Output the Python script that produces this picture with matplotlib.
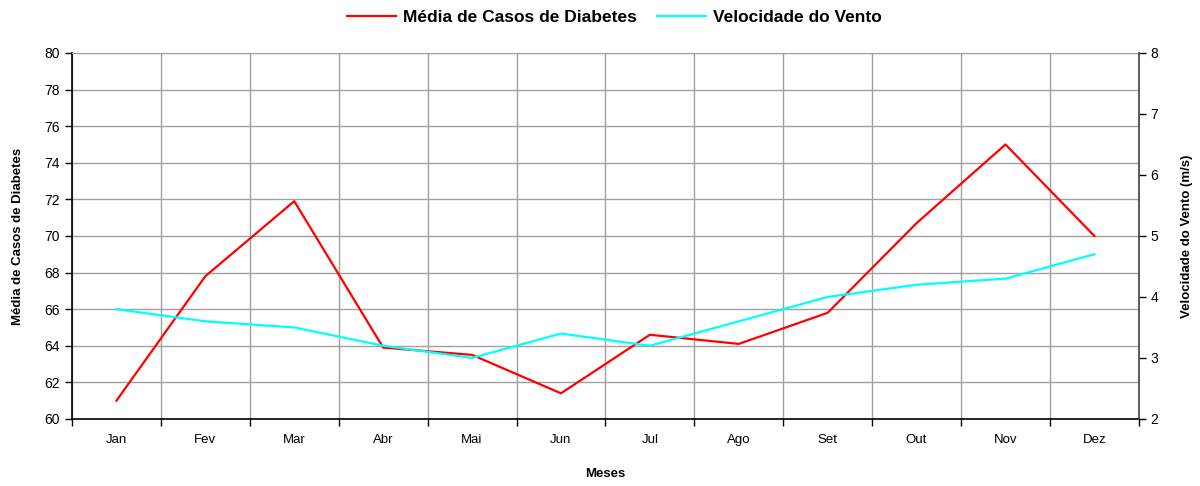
import numpy as np
import matplotlib
matplotlib.use("Agg")
import matplotlib.pyplot as plt

plt.rcParams['font.family'] = ['Liberation Sans', 'DejaVu Sans']

meses = ["Jan", "Fev", "Mar", "Abr", "Mai", "Jun", "Jul", "Ago", "Set", "Out", "Nov", "Dez"]
casos_diabetes = [61.0, 67.8, 71.9, 63.9, 63.5, 61.4, 64.6, 64.1, 65.8, 70.7, 75.0, 70.0]
vel_vento = [3.8, 3.6, 3.5, 3.2, 3.0, 3.4, 3.2, 3.6, 4.0, 4.2, 4.3, 4.7]

fig = plt.figure(figsize=(12, 4.86), dpi=100)
ax = fig.add_axes([0.06, 0.138, 0.889, 0.753])
ax2 = ax.twinx()

x = np.arange(len(meses))
l1, = ax.plot(x, casos_diabetes, color="#ff0000", lw=1.6, label="Média de Casos de Diabetes", zorder=3)
l2, = ax2.plot(x, vel_vento, color="#00ffff", lw=1.6, label="Velocidade do Vento", zorder=3)

ax.set_xlim(-0.5, len(meses) - 0.5)
ax.set_ylim(60, 80)
ax.set_yticks(np.arange(60, 81, 2))
ax2.set_ylim(2, 8)
ax2.set_yticks(np.arange(2, 9, 1))

# categorias entre as marcas, como no Excel
ax.set_xticks(x)
ax.set_xticklabels(meses)
ax.set_xticks(np.arange(-0.5, len(meses), 1), minor=True)
ax.tick_params(axis="x", which="major", length=0, pad=11, labelsize=9.5)
ax.tick_params(axis="x", which="minor", length=5, direction="out", width=1)
ax.tick_params(axis="y", length=5, direction="out", labelsize=10, width=1)
ax2.tick_params(axis="y", length=5, direction="out", labelsize=10, width=1)

ax.grid(True, axis="y", color="#a0a0a0", lw=1)
ax.grid(True, axis="x", which="minor", color="#a0a0a0", lw=1)
ax.set_axisbelow(True)

for s in ["left", "bottom"]:
    ax.spines[s].set_color("black")
    ax.spines[s].set_linewidth(1.2)
ax.spines["top"].set_color("#a0a0a0")
ax.spines["right"].set_visible(False)
ax2.spines["right"].set_color("#404040")
ax2.spines["right"].set_linewidth(1.2)
for s in ["left", "bottom", "top"]:
    ax2.spines[s].set_visible(False)

ax.set_xlabel("Meses", fontsize=9.5, fontweight="bold", labelpad=16)
ax.set_ylabel("Média de Casos de Diabetes", fontsize=9.5, fontweight="bold", labelpad=15)
ax2.set_ylabel("Velocidade do Vento (m/s)", fontsize=9.5, fontweight="bold", labelpad=16)

fig.legend(handles=[l1, l2], loc="center", bbox_to_anchor=(0.512, 0.965), ncol=2,
           frameon=False, prop={"size": 12.5, "weight": "bold"}, handlelength=2.8,
           handletextpad=0.4, columnspacing=1.2)

fig.savefig("out.png", dpi=100)
